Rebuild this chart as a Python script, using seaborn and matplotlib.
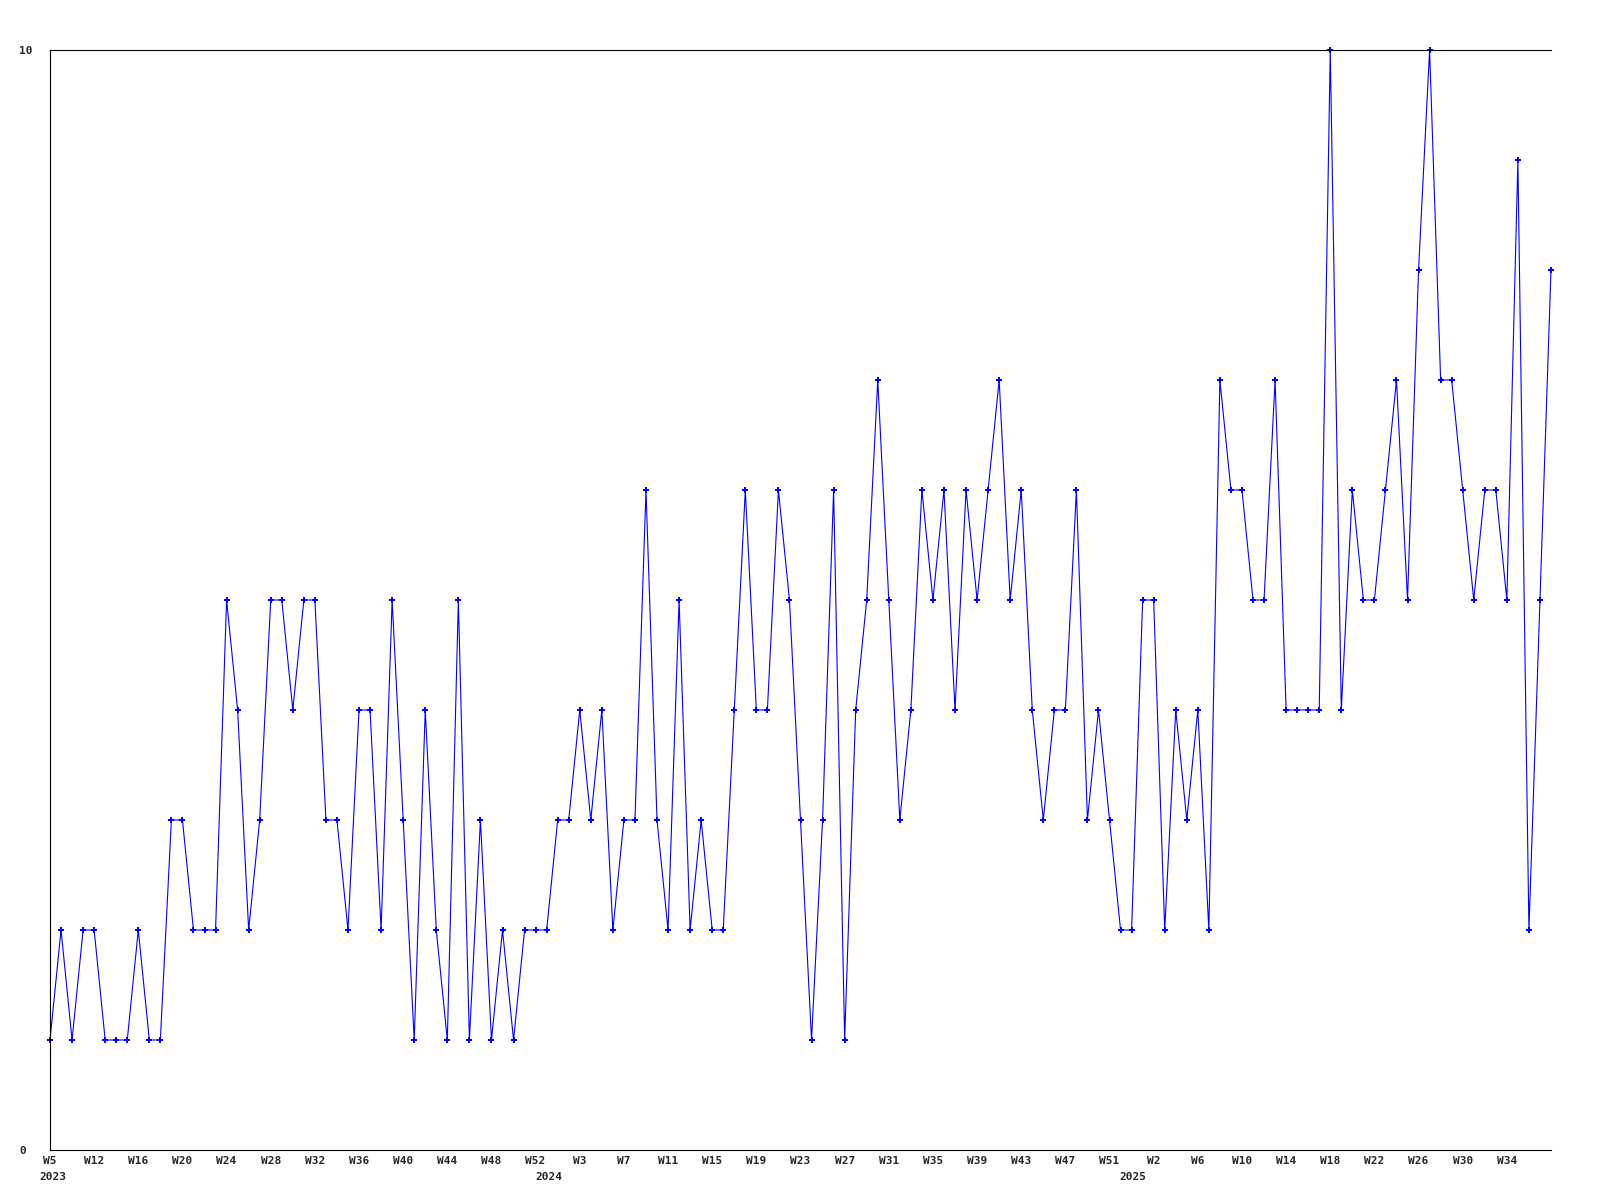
import matplotlib
matplotlib.use('Agg')
import pandas as pd
import seaborn as sns
import matplotlib.pyplot as plt

# weekly counts, 2023 .. 2025
counts = [1, 2, 1, 2, 2, 1, 1, 1, 2, 1, 1, 3, 3, 2, 2, 2, 5, 4, 2, 3,
          5, 5, 4, 5, 5, 3, 3, 2, 4, 4, 2, 5, 3, 1, 4, 2, 1, 5, 1, 3,
          1, 2, 1, 2, 2, 2, 3, 3, 4, 3, 4, 2, 3, 3, 6, 3, 2, 5, 2, 3,
          2, 2, 4, 6, 4, 4, 6, 5, 3, 1, 3, 6, 1, 4, 5, 7, 5, 3, 4, 6,
          5, 6, 4, 6, 5, 6, 7, 5, 6, 4, 3, 4, 4, 6, 3, 4, 3, 2, 2, 5,
          5, 2, 4, 3, 4, 2, 7, 6, 6, 5, 5, 7, 4, 4, 4, 4, 10, 4, 6, 5,
          5, 6, 7, 5, 8, 10, 7, 7, 6, 5, 6, 6, 5, 9, 2, 5, 8]

tick_labels = ['W5', 'W12', 'W16', 'W20', 'W24', 'W28', 'W32', 'W36', 'W40', 'W44', 'W48', 'W52',
               'W3', 'W7', 'W11', 'W15', 'W19', 'W23', 'W27', 'W31', 'W35', 'W39', 'W43', 'W47', 'W51',
               'W2', 'W6', 'W10', 'W14', 'W18', 'W22', 'W26', 'W30', 'W34']
years = ['2023', '2024', '2025']

sns.set_style('white')
plt.rcParams['font.family'] = ['DejaVu Sans Mono']

df = pd.DataFrame({'week': range(len(counts)), 'count': counts})

fig = plt.figure(figsize=(16, 12), dpi=100)
ax = fig.add_axes([50 / 1600, 50 / 1200, 1501 / 1600, 1100 / 1200])

sns.lineplot(data=df, x='week', y='count', ax=ax, color='#0000ff', linewidth=0.8,
             marker='P', markersize=4.5, markeredgewidth=0, clip_on=False)

ax.set_xlim(0, len(counts) - 1)
ax.set_ylim(0, 10)

# a label every 4 weeks
ax.set_xticks(range(0, 4 * len(tick_labels), 4))
ax.set_xticklabels(tick_labels, fontsize=8, fontweight='bold')
ax.set_yticks([0, 10])
ax.set_yticklabels(['0', '10'], fontsize=8, fontweight='bold', ha='left')
ax.tick_params(axis='x', length=0, pad=4)
ax.tick_params(axis='y', length=0, pad=22)

for yr, pos in zip(years, [0.3, 45.2, 98.1]):
    ax.annotate(yr, xy=(pos, 0), xycoords=('data', 'axes fraction'),
                xytext=(0, -15.5), textcoords='offset points',
                ha='center', va='top', fontsize=8, fontweight='bold')

ax.set_xlabel('')
ax.set_ylabel('')
ax.spines['right'].set_visible(False)
for s in ['left', 'top', 'bottom']:
    ax.spines[s].set_color('black')
    ax.spines[s].set_linewidth(0.8)

fig.savefig('out.png', dpi=100)
